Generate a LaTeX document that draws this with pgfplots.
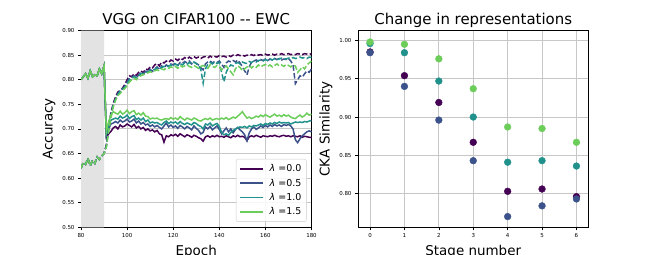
\documentclass[border=0pt]{standalone}
\usepackage{fontspec}
\setmainfont{DejaVu Sans}
\usepackage{pgfplots}
\usepackage{pgfplotstable}
\pgfplotsset{compat=1.18}
\definecolor{vpur}{HTML}{440154}
\definecolor{vblu}{HTML}{3B528B}
\definecolor{vtea}{HTML}{21918C}
\definecolor{vgrn}{HTML}{6CCD5A}
\pgfplotstableread{
ep p b t g P B T G
80 .800 .800 .800 .800 .620 .620 .620 .620
81 .806 .806 .806 .806 .632 .632 .632 .632
82 .812 .812 .812 .812 .628 .628 .628 .628
83 .803 .803 .803 .803 .640 .640 .640 .640
84 .818 .818 .818 .818 .625 .625 .625 .625
85 .806 .806 .806 .806 .636 .636 .636 .636
86 .810 .810 .810 .810 .630 .630 .630 .630
87 .808 .808 .808 .808 .643 .643 .643 .643
88 .822 .822 .822 .822 .638 .638 .638 .638
89 .812 .812 .812 .812 .645 .645 .645 .645
90 .828 .828 .828 .828 .650 .650 .650 .650
91 .683 .688 .690 .695 .668 .665 .665 .663
92 .690 .700 .705 .715 .705 .700 .700 .695
93 .695 .710 .718 .728 .733 .728 .728 .722
94 .702 .712 .720 .735 .752 .748 .748 .745
95 .705 .715 .722 .732 .765 .762 .760 .758
96 .700 .712 .720 .730 .775 .772 .770 .768
97 .708 .718 .726 .736 .778 .776 .778 .772
98 .704 .714 .722 .730 .783 .780 .782 .778
99 .706 .716 .724 .733 .790 .786 .785 .782
100 .710 .720 .728 .738 .800 .795 .792 .788
101 .707 .714 .721 .731 .808 .803 .800 .795
102 .704 .716 .725 .735 .806 .805 .802 .800
103 .709 .720 .727 .737 .812 .808 .806 .803
104 .702 .712 .719 .729 .809 .803 .804 .800
105 .705 .716 .722 .732 .815 .810 .808 .806
106 .700 .710 .718 .728 .818 .814 .812 .808
107 .703 .713 .722 .733 .814 .811 .813 .810
108 .697 .708 .715 .726 .822 .817 .815 .812
109 .700 .710 .718 .725 .820 .818 .816 .814
110 .696 .705 .712 .720 .826 .821 .819 .816
111 .698 .708 .714 .722 .824 .817 .821 .815
112 .694 .704 .712 .721 .830 .822 .820 .818
113 .697 .707 .713 .722 .833 .826 .824 .820
114 .690 .703 .710 .719 .828 .820 .822 .818
115 .688 .700 .708 .718 .836 .828 .825 .822
116 .673 .706 .713 .720 .834 .824 .827 .820
117 .686 .712 .716 .721 .838 .830 .826 .824
118 .684 .704 .711 .719 .835 .827 .828 .823
119 .688 .708 .714 .723 .840 .832 .830 .826
120 .686 .703 .712 .720 .838 .830 .828 .824
121 .689 .706 .714 .722 .842 .834 .832 .827
122 .685 .701 .710 .719 .839 .829 .829 .823
123 .690 .707 .715 .725 .844 .835 .833 .829
124 .687 .704 .711 .721 .841 .833 .830 .826
125 .684 .700 .709 .718 .845 .837 .834 .828
126 .688 .705 .712 .722 .842 .834 .831 .830
127 .686 .702 .710 .720 .846 .838 .835 .827
128 .683 .698 .708 .718 .843 .832 .832 .825
129 .687 .706 .713 .722 .847 .836 .836 .829
130 .685 .701 .711 .720 .844 .833 .833 .826
131 .682 .697 .707 .717 .846 .830 .830 .823
132 .680 .690 .705 .716 .843 .824 .820 .827
133 .675 .693 .700 .719 .846 .820 .793 .829
134 .684 .704 .710 .721 .847 .832 .822 .826
135 .686 .700 .708 .719 .844 .836 .831 .823
136 .683 .705 .712 .722 .848 .838 .835 .830
137 .686 .698 .706 .718 .845 .834 .832 .827
138 .684 .702 .709 .720 .847 .837 .836 .825
139 .687 .706 .711 .721 .846 .835 .833 .829
140 .684 .699 .705 .719 .849 .838 .835 .826
141 .685 .690 .693 .722 .847 .832 .815 .820
142 .683 .696 .688 .720 .848 .825 .796 .824
143 .686 .702 .690 .723 .846 .834 .815 .828
144 .684 .694 .687 .719 .849 .838 .825 .822
145 .682 .700 .693 .721 .847 .836 .830 .816
146 .686 .692 .697 .724 .850 .839 .828 .810
147 .684 .699 .700 .722 .848 .836 .833 .822
148 .687 .703 .702 .726 .851 .840 .835 .828
149 .684 .698 .704 .730 .849 .834 .832 .825
150 .685 .694 .703 .735 .850 .826 .836 .818
151 .683 .688 .705 .728 .848 .818 .834 .822
152 .676 .676 .702 .722 .850 .810 .833 .826
153 .684 .692 .706 .724 .849 .826 .837 .829
154 .686 .700 .704 .721 .851 .836 .835 .824
155 .684 .704 .707 .723 .849 .838 .838 .828
156 .687 .699 .706 .726 .852 .840 .836 .825
157 .685 .702 .708 .724 .850 .838 .839 .830
158 .683 .706 .710 .728 .851 .841 .840 .826
159 .686 .703 .707 .725 .849 .839 .838 .829
160 .685 .707 .711 .729 .852 .842 .841 .831
161 .684 .704 .709 .726 .850 .839 .839 .827
162 .686 .708 .712 .724 .851 .842 .842 .830
163 .685 .705 .710 .727 .852 .840 .840 .826
164 .687 .709 .713 .730 .850 .843 .843 .829
165 .685 .706 .711 .726 .852 .841 .841 .832
166 .684 .708 .714 .728 .851 .843 .842 .828
167 .686 .705 .712 .725 .853 .840 .844 .830
168 .687 .709 .713 .729 .851 .842 .843 .827
169 .685 .707 .712 .726 .852 .841 .842 .831
170 .686 .709 .713 .728 .853 .843 .844 .829
171 .684 .706 .710 .724 .851 .838 .843 .826
172 .686 .700 .712 .722 .852 .830 .845 .830
173 .685 .678 .714 .721 .851 .792 .843 .828
174 .684 .672 .713 .725 .853 .800 .844 .815
175 .686 .680 .714 .728 .852 .808 .846 .820
176 .683 .686 .713 .724 .851 .805 .844 .826
177 .685 .690 .715 .727 .853 .812 .845 .822
178 .684 .694 .714 .732 .852 .818 .843 .830
179 .683 .696 .716 .728 .851 .815 .846 .834
180 .683 .694 .717 .730 .853 .822 .845 .838
}\acc
\pgfplotstableread{
s p b t g
0 .985 .984 .996 .998
1 .954 .940 .984 .995
2 .919 .896 .947 .976
3 .867 .843 .900 .937
4 .803 .770 .841 .887
5 .806 .784 .843 .885
6 .796 .793 .836 .867
}\cka
\pgfplotsset{
  common/.style={
    scale only axis, anchor=south west,
    width=230.5bp, height=196.8bp,
    grid=major,
    major grid style={draw=black!22, line width=1bp},
    axis line style={line width=0.8bp},
    tick align=outside, tick pos=left,
    major tick length=3bp,
    tick style={black, line width=0.6bp},
    ticklabel style={font=\fontsize{5.5}{6}\selectfont},
    /pgf/number format/assume math mode=true,
    label style={font=\fontsize{13.5}{15}\selectfont},
    title style={font=\fontsize{15}{17}\selectfont, at={(axis description cs:0.5,1)}, anchor=base, yshift=0bp},
    xlabel style={at={(axis description cs:0.5,0)}, anchor=base, yshift=-28.3bp},
    ylabel style={at={(axis description cs:0,0.5)}, anchor=center, yshift=32bp},
  },
  sl/.style={line width=1.5bp},
  dl/.style={line width=1.5bp, dash pattern=on 5.5bp off 2.4bp, forget plot},
}
\begin{document}
\begin{tikzpicture}
\useasboundingbox (0,0) rectangle (654bp,255bp);
\begin{axis}[common, at={(81bp,27.7bp)},
  xmin=80, xmax=180, ymin=0.5, ymax=0.9,
  xtick={80,100,...,180}, ytick={0.5,0.55,...,0.91},
  yticklabel style={/pgf/number format/.cd, fixed, fixed zerofill, precision=2},
  title={VGG on CIFAR100 -{}- EWC}, xlabel={Epoch}, ylabel={Accuracy},
  legend style={at={(axis description cs:1,0)}, anchor=south east, xshift=-5bp, yshift=5.5bp,
    font=\fontsize{9.5}{11}\selectfont, draw=black!20, rounded corners=2bp, fill=white, fill opacity=0.85, text opacity=1,
    row sep=1.6bp, column sep=4bp, inner xsep=3bp, inner ysep=3.5bp},
  legend cell align=left,
  legend image code/.code={\draw[#1, line width=1.9bp] (0cm,0cm) -- (0.8cm,0cm);},
]
\addplot[fill=black!11, draw=none, forget plot] coordinates {(80,0.5) (90,0.5) (90,0.9) (80,0.9)} \closedcycle;
\addplot[sl, vpur] table[x=ep, y=p] {\acc};
\addplot[dl, vpur] table[x=ep, y=P] {\acc};
\addplot[sl, vblu] table[x=ep, y=b] {\acc};
\addplot[dl, vblu] table[x=ep, y=B] {\acc};
\addplot[sl, vtea] table[x=ep, y=t] {\acc};
\addplot[dl, vtea] table[x=ep, y=T] {\acc};
\addplot[sl, vgrn] table[x=ep, y=g] {\acc};
\addplot[dl, vgrn] table[x=ep, y=G] {\acc};
\legend{{\itshape λ} =0.0, {\itshape λ} =0.5, {\itshape λ} =1.0, {\itshape λ} =1.5}
\end{axis}
\begin{axis}[common, at={(358bp,27.7bp)},
  xmin=-0.35, xmax=6.35, ymin=0.756, ymax=1.013,
  xtick={0,...,6}, ytick={0.8,0.85,...,1.01},
  yticklabel style={/pgf/number format/.cd, fixed, fixed zerofill, precision=2},
  title={Change in representations}, xlabel={Stage number}, ylabel={CKA Similarity},
]
\addplot[only marks, mark=*, mark size=3.4bp, vpur, mark options={draw=vpur, fill=vpur}] table[x=s, y=p] {\cka};
\addplot[only marks, mark=*, mark size=3.4bp, vblu, mark options={draw=vblu, fill=vblu}] table[x=s, y=b] {\cka};
\addplot[only marks, mark=*, mark size=3.4bp, vtea, mark options={draw=vtea, fill=vtea}] table[x=s, y=t] {\cka};
\addplot[only marks, mark=*, mark size=3.4bp, vgrn, mark options={draw=vgrn, fill=vgrn}] table[x=s, y=g] {\cka};
\end{axis}
\end{tikzpicture}
\end{document}
